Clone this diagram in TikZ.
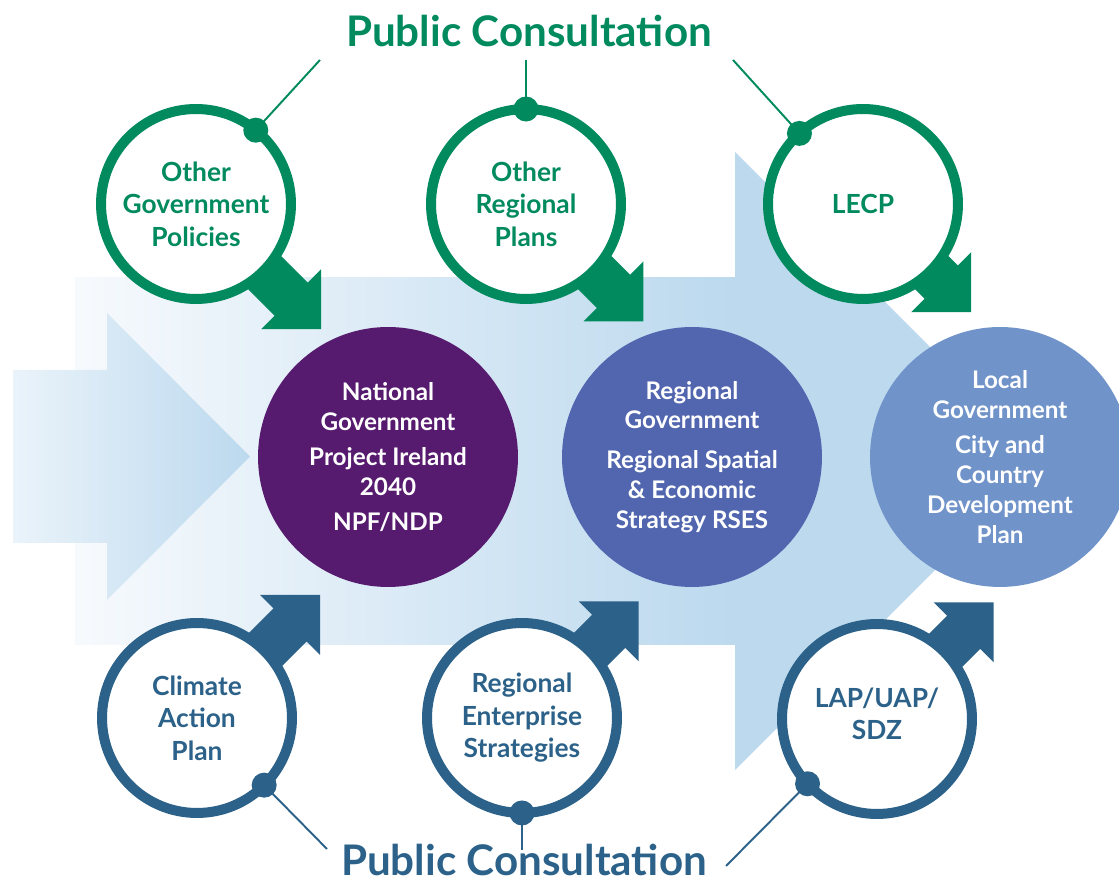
\documentclass[tikz,border=0pt]{standalone}
\usepackage{fontspec}
\setmainfont{Lato}

\definecolor{pcgreen}{HTML}{008A5E}
\definecolor{pcblue}{HTML}{2C6289}
\definecolor{natpurple}{HTML}{561A6E}
\definecolor{regblue}{HTML}{5166AF}
\definecolor{locblue}{HTML}{7093C9}
\definecolor{flowblue}{HTML}{BCD9EE}
\definecolor{flowlite}{HTML}{EAF3FA}
\definecolor{flowpale}{HTML}{F7FAFD}

% thick arrow leaving a ring: centre, angle, tip distance, colour
\newcommand{\feedarrow}[4]{%
  \fill[#4, shift={(#1)}, rotate=#2]
    (0,-23.5) -- (#3-42.4,-23.5) -- (#3-42.4,-42.4) -- (#3,0)
    -- (#3-42.4,42.4) -- (#3-42.4,23.5) -- (0,23.5) -- cycle;}

\begin{document}
\begin{tikzpicture}[x=0.02cm, y=0.02cm,
  ring/.style={circle, draw=#1, text=#1, line width=0.2cm, fill=white,
    minimum size=3.8cm, inner sep=0pt, outer sep=0pt, align=center,
    font=\bfseries\fontsize{15}{18.5}\selectfont},
  gov/.style={circle, fill=#1, minimum size=5.2cm, inner sep=0pt, align=center,
    text=white, font=\bfseries\fontsize{13.8}{17}\selectfont},
  joint/.style={circle, fill=#1, minimum size=0.5cm, inner sep=0pt},
  tie/.style={line width=1.1pt},
  pctitle/.style={anchor=base, inner sep=0pt,
    font=\bfseries\fontsize{24}{28}\selectfont}]
  \useasboundingbox (0,0) rectangle (1119,885);

  % flow arrows behind
  \shade[left color=flowpale, right color=flowblue] (75,240) rectangle (735,607);
  \fill[flowblue] (735,115) -- (1044,424) -- (735,733) -- cycle;
  \shade[left color=flowlite, right color=flowblue]
    (13,342) -- (107,342) -- (107,285) -- (250,428.5) -- (107,572)
    -- (107,515) -- (13,515) -- cycle;

  % ring centres
  \coordinate (c1) at (196,681);
  \coordinate (c2) at (526,681);
  \coordinate (c3) at (863,681);
  \coordinate (c4) at (197,167);
  \coordinate (c5) at (522,167);
  \coordinate (c6) at (877,166);

  \feedarrow{c1}{-45}{177}{pcgreen}
  \feedarrow{c2}{-45}{166}{pcgreen}
  \feedarrow{c3}{-45}{153}{pcgreen}
  \feedarrow{c4}{45}{174}{pcblue}
  \feedarrow{c5}{45}{165}{pcblue}
  \feedarrow{c6}{45}{165}{pcblue}

  \node[ring=pcgreen] (ogp) at (c1) {Other\\Government\\Policies};
  \node[ring=pcgreen] (orp) at (c2) {Other\\Regional\\Plans};
  \node[ring=pcgreen] (lecp) at (c3) {LECP};
  \node[ring=pcblue] (cap) at (c4) {Climate\\Action\\Plan};
  \node[ring=pcblue] (res) at (c5) {Regional\\Enterprise\\Strategies};
  \node[ring=pcblue, text height=24pt] (lap) at (c6) {LAP/UAP/\\SDZ};

  \node[gov=natpurple] (nat) at (388,428)
    {National\\Government\\[0.1cm]Project Ireland\\2040\\[0.1cm]NPF/NDP};
  \node[gov=regblue] (reg) at (692,428)
    {Regional\\Government\\[0.2cm]Regional Spatial\\\& Economic\\Strategy RSES};
  \node[gov=locblue] (loc) at (1000,428)
    {Local\\Government\\[0.1cm]City and\\Country\\Development\\Plan};

  % consultation titles and their ties
  \node[pctitle, text=pcgreen] (pctop) at (529,838) {Public Consultation};
  \node[pctitle, text=pcblue] (pcbot) at (524,9) {Public Consultation};
  \coordinate (t1) at (320,825);
  \coordinate (t2) at (526,825);
  \coordinate (t3) at (733,825);
  \coordinate (b1) at (327,36);
  \coordinate (b2) at (522,35);
  \coordinate (b3) at (726,19);

  \draw[tie, pcgreen] (ogp.51) -- (t1);
  \draw[tie, pcgreen] (orp.90) -- (t2);
  \draw[tie, pcgreen] (lecp.132) -- (t3);
  \draw[tie, pcblue] (cap.-45) -- (b1);
  \draw[tie, pcblue] (res.-90) -- (b2);
  \draw[tie, pcblue] (lap.223) -- (b3);
  \node[joint=pcgreen] (j1) at (ogp.51) {};
  \node[joint=pcgreen] (j2) at (orp.90) {};
  \node[joint=pcgreen] (j3) at (lecp.132) {};
  \node[joint=pcblue] (j4) at (cap.-45) {};
  \node[joint=pcblue] (j5) at (res.-90) {};
  \node[joint=pcblue] (j6) at (lap.223) {};
\end{tikzpicture}
\end{document}
